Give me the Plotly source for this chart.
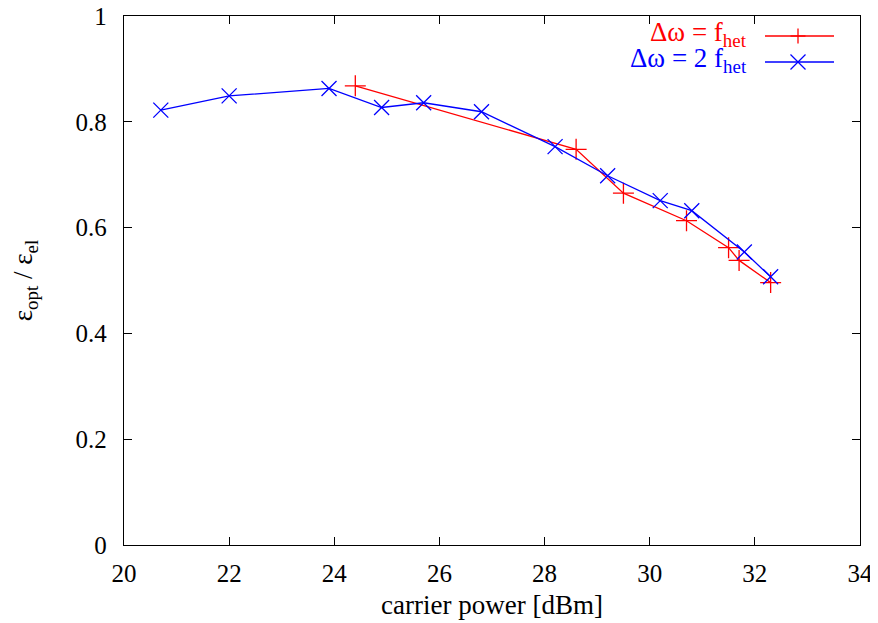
import plotly.graph_objects as go

# Data
x_f = [24.4, 28.6, 29.5, 30.7, 31.5, 31.7, 32.3]
y_f = [0.868, 0.748, 0.665, 0.613, 0.562, 0.538, 0.496]
x_2f = [20.7, 22.0, 23.9, 24.9, 25.7, 26.8, 28.2, 29.2, 30.2, 30.8, 31.8, 32.3]
y_2f = [0.822, 0.849, 0.863, 0.827, 0.836, 0.819, 0.753, 0.698, 0.651, 0.632, 0.554, 0.507]
x_ticks = [20, 22, 24, 26, 28, 30, 32, 34]
y_ticks = [0, 0.2, 0.4, 0.6, 0.8, 1]
y_tick_labels = ["0", "0.2", "0.4", "0.6", "0.8", "1"]

RED = "#ff0000"
BLUE = "#0000ff"
FONT = "Liberation Serif, Times New Roman, serif"
FS_TICK = 25
FS_TITLE = 27
FS_LEG = 27
# page has an 8px body margin: the figure is drawn 8px right/down
OFF = 8
W, H = 878 - OFF, 623 - OFF
L, R, T, B = 124 - OFF, 18, 16 - OFF, 78
PLEFT, PTOP = 124, 16          # plot-area corners in page pixels
PW, PH = 736, 529


def px(xpix):
    return (xpix - PLEFT) / PW


def py(ypix):
    return (PTOP + PH - ypix) / PH


fig = go.Figure()
fig.add_trace(go.Scatter(x=x_f, y=y_f, mode="lines+markers", name="Δω = f_het",
                         line=dict(color=RED, width=1.3),
                         marker=dict(symbol="cross-thin", size=15, line=dict(color=RED, width=1.3)),
                         showlegend=False))
fig.add_trace(go.Scatter(x=x_2f, y=y_2f, mode="lines+markers", name="Δω = 2 f_het",
                         line=dict(color=BLUE, width=1.3),
                         marker=dict(symbol="x-thin", size=15, line=dict(color=BLUE, width=1.3)),
                         showlegend=False))

shapes = []
annotations = []
legend_items = [("Δω = f<sub>het</sub>", RED, 36, "plus"),
                ("Δω = 2 f<sub>het</sub>", BLUE, 62, "x")]
for text, col, ypix, kind in legend_items:
    annotations.append(dict(x=px(749), y=py(ypix - 2), xref="paper", yref="paper",
                            text=text, showarrow=False, xanchor="right", yanchor="middle",
                            font=dict(family=FONT, size=FS_LEG, color=col)))
    shapes.append(dict(type="line", xref="paper", yref="paper",
                       x0=px(765), x1=px(834), y0=py(ypix), y1=py(ypix),
                       line=dict(color=col, width=1.3)))
    cx, h = 798, 7.5
    if kind == "plus":
        segs = [(cx - h, ypix, cx + h, ypix), (cx, ypix - h, cx, ypix + h)]
    else:
        segs = [(cx - h, ypix - h, cx + h, ypix + h), (cx - h, ypix + h, cx + h, ypix - h)]
    for a, b, c, d in segs:
        shapes.append(dict(type="line", xref="paper", yref="paper",
                           x0=px(a), y0=py(b), x1=px(c), y1=py(d),
                           line=dict(color=col, width=1.3)))

fig.update_layout(
    width=W, height=H,
    margin=dict(l=L, r=R, t=T, b=B),
    paper_bgcolor="white", plot_bgcolor="white",
    font=dict(family=FONT, size=FS_TICK, color="black"),
    shapes=shapes, annotations=annotations,
    showlegend=False,
)
fig.update_xaxes(range=[20, 34], tickvals=x_ticks, ticks="inside", ticklen=8, tickwidth=1,
                 tickcolor="black", showline=True, linecolor="black", linewidth=1.3,
                 mirror="ticks", showgrid=False, zeroline=False, automargin=False,
                 ticklabelstandoff=6, ticklabeloverflow="allow",
                 title=dict(text="carrier power [dBm]", standoff=8,
                            font=dict(family=FONT, size=FS_TITLE)),
                 tickfont=dict(family=FONT, size=FS_TICK))
fig.update_yaxes(range=[0, 1], tickvals=y_ticks, ticktext=y_tick_labels, ticks="inside",
                 ticklen=8, tickwidth=1, tickcolor="black", showline=True,
                 linecolor="black", linewidth=1.3, mirror="ticks", showgrid=False,
                 zeroline=False, automargin=False, ticklabelstandoff=11,
                 ticklabeloverflow="allow",
                 title=dict(text="ε<sub>opt</sub> / ε<sub>el</sub>", standoff=40,
                            font=dict(family=FONT, size=FS_TITLE)),
                 tickfont=dict(family=FONT, size=FS_TICK))

fig.write_html("out.html")
